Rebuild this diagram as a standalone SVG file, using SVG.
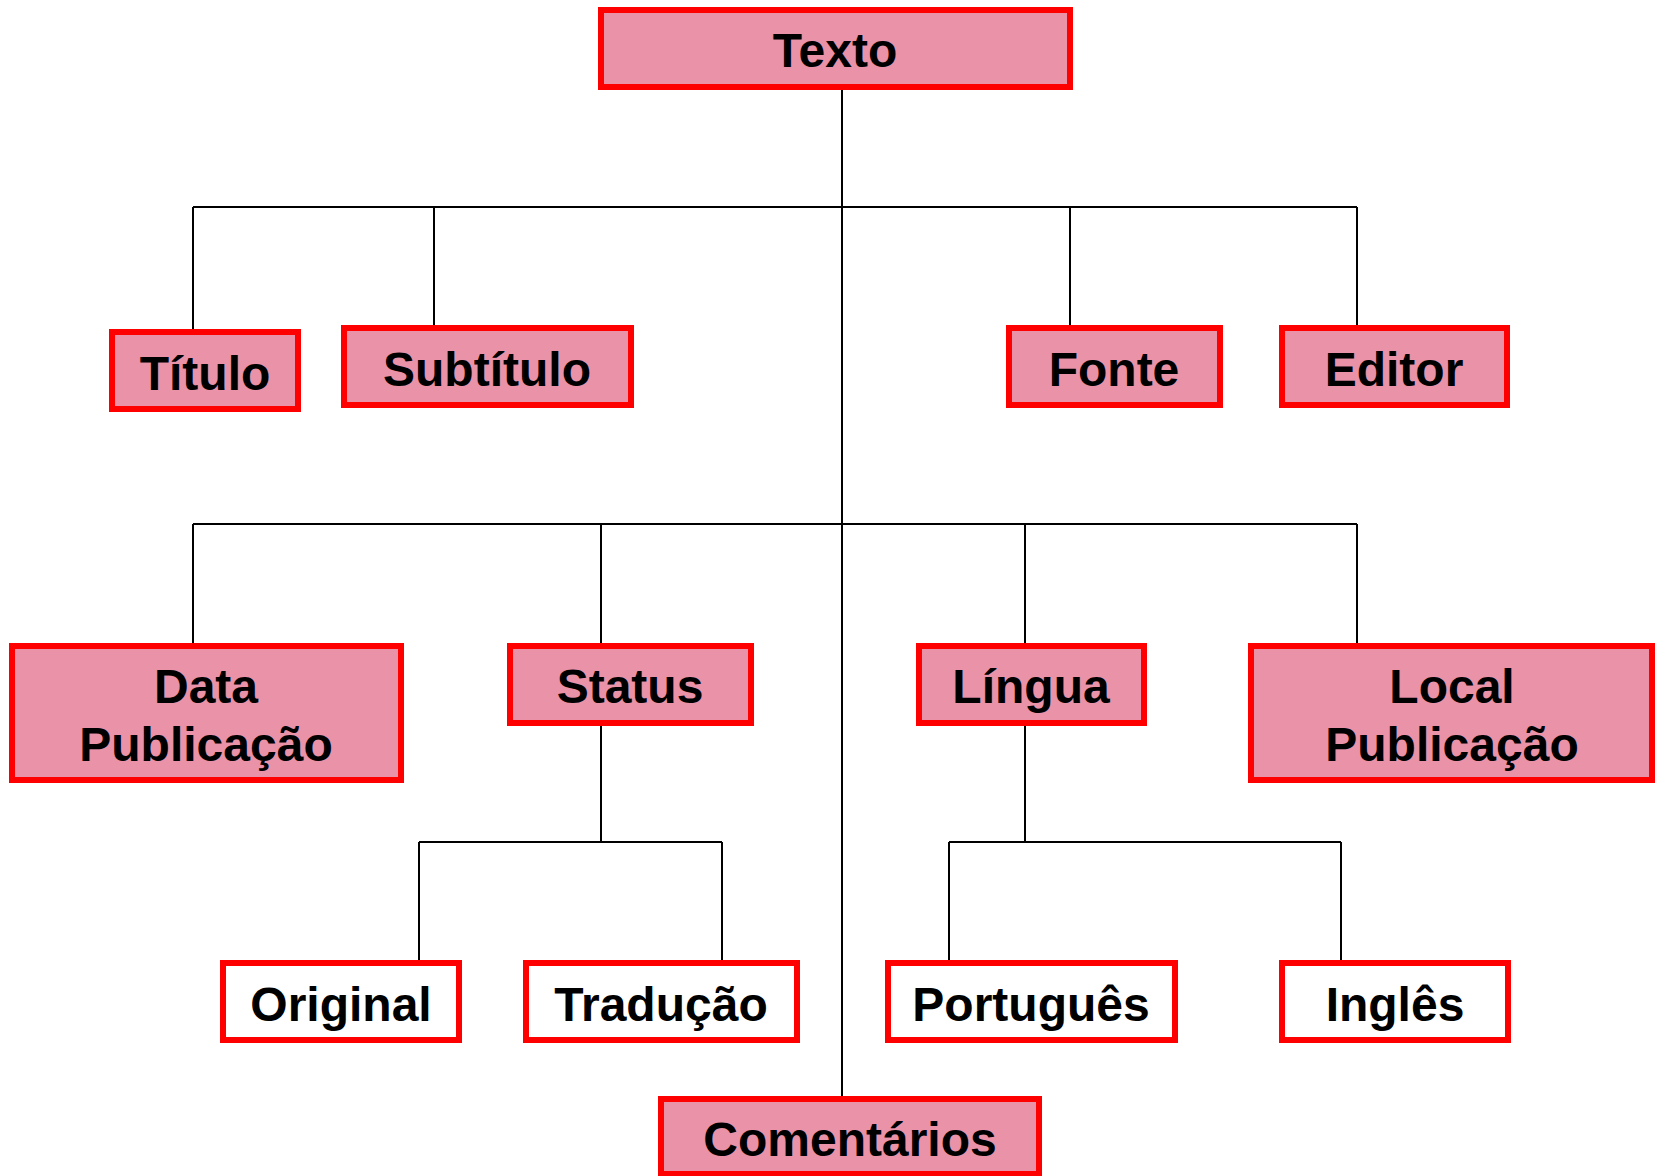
<svg xmlns="http://www.w3.org/2000/svg" width="1655" height="1176" viewBox="0 0 1655 1176">
<style>
.n rect{stroke:#FF0000;stroke-width:6}
.p rect{fill:#E992A8}
.w rect{fill:#FFFFFF}
text{font-family:"Liberation Sans",Arial,sans-serif;font-weight:bold;font-size:48px;fill:#000;text-anchor:middle}
#connectors path{stroke:#000;stroke-width:2;fill:none}
</style>
<rect width="1655" height="1176" fill="#FFFFFF"/>
<g id="connectors">
<path d="M842 90V1096"/>
<path d="M193 207H1357M193 207V329M434 207V325M1070 207V325M1357 207V325"/>
<path d="M193 524H1357M193 524V643M601 524V643M1025 524V643M1357 524V643"/>
<path d="M601 725V842M419 842H722M419 842V960M722 842V960"/>
<path d="M1025 725V842M949 842H1341M949 842V960M1341 842V960"/>
</g>
<g id="texto" class="n p"><rect x="601" y="10" width="469" height="77"/><text x="835" y="67">Texto</text></g>
<g id="titulo" class="n p"><rect x="112" y="332" width="186" height="77"/><text x="205" y="390">Título</text></g>
<g id="subtitulo" class="n p"><rect x="344" y="328" width="287" height="77"/><text x="487" y="386">Subtítulo</text></g>
<g id="fonte" class="n p"><rect x="1009" y="328" width="211" height="77"/><text x="1114" y="386">Fonte</text></g>
<g id="editor" class="n p"><rect x="1282" y="328" width="225" height="77"/><text x="1394" y="386">Editor</text></g>
<g id="data-publicacao" class="n p"><rect x="12" y="646" width="389" height="134"/><text x="206" y="703">Data</text><text x="206" y="761">Publicação</text></g>
<g id="status" class="n p"><rect x="510" y="646" width="241" height="77"/><text x="630" y="703">Status</text></g>
<g id="lingua" class="n p"><rect x="919" y="646" width="225" height="77"/><text x="1031" y="703">Língua</text></g>
<g id="local-publicacao" class="n p"><rect x="1251" y="646" width="401" height="134"/><text x="1452" y="703">Local</text><text x="1452" y="761">Publicação</text></g>
<g id="original" class="n w"><rect x="223" y="963" width="236" height="77"/><text x="341" y="1021">Original</text></g>
<g id="traducao" class="n w"><rect x="526" y="963" width="271" height="77"/><text x="661" y="1021">Tradução</text></g>
<g id="portugues" class="n w"><rect x="888" y="963" width="287" height="77"/><text x="1031" y="1021">Português</text></g>
<g id="ingles" class="n w"><rect x="1282" y="963" width="226" height="77"/><text x="1395" y="1021">Inglês</text></g>
<g id="comentarios" class="n p"><rect x="661" y="1099" width="378" height="75"/><text x="850" y="1156">Comentários</text></g>
</svg>
